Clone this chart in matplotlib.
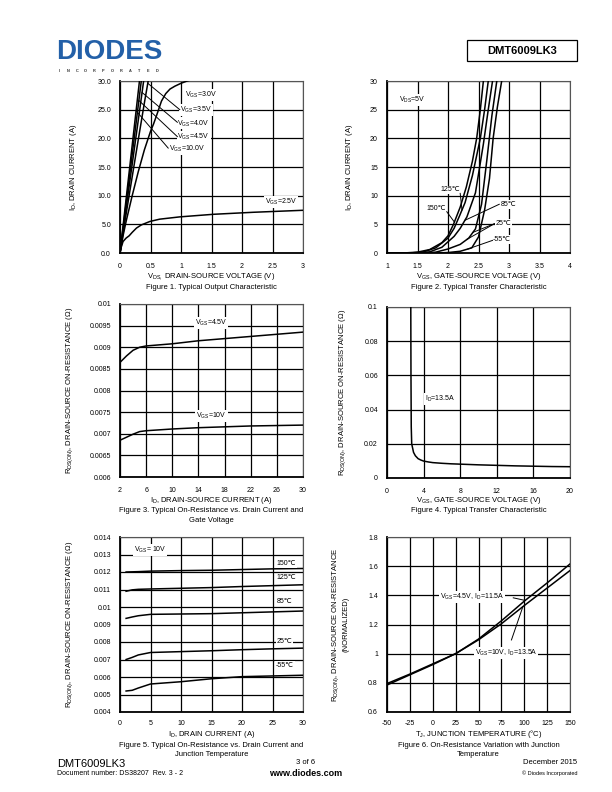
import numpy as np
import matplotlib
matplotlib.use('Agg')
import matplotlib.pyplot as plt
from matplotlib.patches import Rectangle

plt.rcParams['font.family'] = ['Liberation Sans', 'DejaVu Sans']
plt.rcParams['mathtext.fontset'] = 'custom'
plt.rcParams['mathtext.rm'] = 'Liberation Sans'
plt.rcParams['mathtext.it'] = 'Liberation Sans:italic'
plt.rcParams['mathtext.bf'] = 'Liberation Sans:bold'

# ---------------- Figure 1 data ----------------
f1_vds_25 = [0, 0.02, 0.05, 0.1, 0.15, 0.2, 0.27, 0.35, 0.49, 0.65, 0.98, 1.53, 2.18, 3.0]
f1_id_25 = [0, 1.0, 2.0, 2.6, 3.0, 3.6, 4.35, 4.9, 5.5, 5.9, 6.3, 6.75, 7.1, 7.45]
f1_vds_30 = [0, 0.05, 0.1, 0.2, 0.3, 0.4, 0.5, 0.55, 0.6, 0.68, 0.75, 0.82, 0.9, 1.0, 1.1, 1.2]
f1_id_30 = [0, 3, 5.5, 10, 14.2, 18, 21.2, 22.5, 24, 26.5, 27.8, 28.6, 29.1, 29.6, 30, 30.3]
f1_vds_35 = [0, 0.1, 0.2, 0.3, 0.4, 0.47]
f1_id_35 = [0, 6.8, 13.3, 19.8, 26.2, 30.5]
f1_vds_40 = [0, 0.1, 0.2, 0.3, 0.39]
f1_id_40 = [0, 7.8, 15.5, 23.2, 30.2]
f1_vds_45 = [0, 0.1, 0.2, 0.3, 0.35]
f1_id_45 = [0, 8.6, 17.2, 25.8, 30.1]
f1_vds_100 = [0, 0.1, 0.2, 0.3, 0.32]
f1_id_100 = [0, 9.4, 18.8, 28.2, 30.1]
f1_xticks = [0, 0.5, 1, 1.5, 2, 2.5, 3]
f1_xticklabels = ['0', '0.5', '1', '1.5', '2', '2.5', '3']
f1_yticks = [0, 5, 10, 15, 20, 25, 30]
f1_yticklabels = ['0.0', '5.0', '10.0', '15.0', '20.0', '25.0', '30.0']

# ---------------- Figure 2 data ----------------
f2_vgs_150 = [1.0, 1.3, 1.5, 1.7, 1.9, 2.0, 2.09, 2.2, 2.3, 2.4, 2.47, 2.53, 2.58, 2.6]
f2_id_150 = [0, 0.02, 0.15, 0.6, 1.8, 3.0, 5.0, 8.0, 11.5, 16, 20, 25, 30, 32]
f2_vgs_125 = [1.0, 1.4, 1.6, 1.8, 2.0, 2.1, 2.19, 2.28, 2.4, 2.53, 2.6, 2.66, 2.68]
f2_id_125 = [0, 0.02, 0.2, 0.9, 2.6, 4.3, 6.5, 8.8, 13.5, 20, 25, 30, 32]
f2_vgs_85 = [1.0, 1.5, 1.7, 1.9, 2.1, 2.2, 2.31, 2.45, 2.58, 2.66, 2.73, 2.75]
f2_id_85 = [0, 0.02, 0.2, 1.0, 2.9, 4.3, 6.3, 10.5, 19, 25, 30, 32]
f2_vgs_25 = [1.0, 1.6, 1.8, 2.0, 2.2, 2.34, 2.45, 2.55, 2.64, 2.72, 2.8, 2.82]
f2_id_25 = [0, 0.01, 0.15, 0.7, 1.5, 2.6, 4.2, 8.5, 16.5, 24, 30, 32]
f2_vgs_m55 = [1.0, 1.8, 2.0, 2.2, 2.39, 2.5, 2.6, 2.68, 2.74, 2.81, 2.88, 2.9]
f2_id_m55 = [0, 0.01, 0.08, 0.3, 0.9, 2.8, 7.5, 13, 20, 25.5, 30, 32]
f2_xticks = [1, 1.5, 2, 2.5, 3, 3.5, 4]
f2_xticklabels = ['1', '1.5', '2', '2.5', '3', '3.5', '4']
f2_yticks = [0, 5, 10, 15, 20, 25, 30]
f2_yticklabels = ['0', '5', '10', '15', '20', '25', '30']

# ---------------- Figure 3 data ----------------
f3_id = [2, 3, 4, 5, 6, 10, 14, 18, 22, 26, 30]
f3_r_45 = [0.00865, 0.0088, 0.00893, 0.00900, 0.00903, 0.00908, 0.00915, 0.0092, 0.00925, 0.0093, 0.00935]
f3_r_10 = [0.00685, 0.00692, 0.00699, 0.00705, 0.00707, 0.00711, 0.00714, 0.00716, 0.00718, 0.00719, 0.0072]
f3_xticks = [2, 6, 10, 14, 18, 22, 26, 30]
f3_xticklabels = ['2', '6', '10', '14', '18', '22', '26', '30']
f3_yticks = [0.006, 0.0065, 0.007, 0.0075, 0.008, 0.0085, 0.009, 0.0095, 0.01]
f3_yticklabels = ['0.006', '0.0065', '0.007', '0.0075', '0.008', '0.0085', '0.009', '0.0095', '0.01']

# ---------------- Figure 4 data ----------------
f4_vgs = [2.6, 2.62, 2.65, 2.7, 2.8, 2.9, 3.1, 3.4, 3.7, 4.0, 4.5, 5, 6, 7, 8, 10, 12, 14, 16, 18, 20]
f4_r = [0.1, 0.06, 0.03, 0.02, 0.0175, 0.015, 0.013, 0.0113, 0.0105, 0.0099, 0.0094, 0.009, 0.0086,
        0.0083, 0.0081, 0.0077, 0.0074, 0.0071, 0.0069, 0.0067, 0.0066]
f4_xticks = [0, 4, 8, 12, 16, 20]
f4_xticklabels = ['0', '4', '8', '12', '16', '20']
f4_yticks = [0, 0.02, 0.04, 0.06, 0.08, 0.1]
f4_yticklabels = ['0', '0.02', '0.04', '0.06', '0.08', '0.1']

# ---------------- Figure 5 data ----------------
f5_id = [1, 2, 3, 5, 10, 15, 20, 25, 30]
f5_r_150 = [0.01200, 0.01201, 0.01202, 0.01205, 0.01208, 0.0121, 0.01214, 0.01218, 0.0122]
f5_r_125 = [0.0109, 0.01098, 0.01101, 0.01103, 0.01107, 0.01111, 0.01117, 0.01122, 0.01127]
f5_r_85 = [0.00935, 0.00943, 0.0095, 0.00958, 0.0096, 0.00962, 0.00967, 0.00972, 0.00977]
f5_r_25 = [0.0070, 0.00712, 0.00726, 0.0074, 0.00745, 0.0075, 0.00756, 0.00761, 0.00765]
f5_r_m55 = [0.0052, 0.00524, 0.00537, 0.0056, 0.00573, 0.0059, 0.00602, 0.00606, 0.0061]
f5_xticks = [0, 5, 10, 15, 20, 25, 30]
f5_xticklabels = ['0', '5', '10', '15', '20', '25', '30']
f5_yticks = [0.004, 0.005, 0.006, 0.007, 0.008, 0.009, 0.01, 0.011, 0.012, 0.013, 0.014]
f5_yticklabels = ['0.004', '0.005', '0.006', '0.007', '0.008', '0.009', '0.01', '0.011', '0.012', '0.013', '0.014']

# ---------------- Figure 6 data ----------------
f6_tj = [-50, -25, 0, 25, 50, 75, 100, 125, 150]
f6_r_45 = [0.795, 0.86, 0.93, 1.0, 1.1, 1.225, 1.36, 1.485, 1.615]
f6_r_10 = [0.785, 0.855, 0.925, 1.0, 1.095, 1.205, 1.33, 1.45, 1.57]
f6_xticks = [-50, -25, 0, 25, 50, 75, 100, 125, 150]
f6_xticklabels = ['-50', '-25', '0', '25', '50', '75', '100', '125', '150']
f6_yticks = [0.6, 0.8, 1.0, 1.2, 1.4, 1.6, 1.8]
f6_yticklabels = ['0.6', '0.8', '1', '1.2', '1.4', '1.6', '1.8']

W, H = 612, 792
fig = plt.figure(figsize=(W / 100, H / 100), dpi=100)


def ax_at(l, t, r, b):
    return fig.add_axes([l / W, 1 - b / H, (r - l) / W, (b - t) / H])


def T(px, py, s, **kw):
    kw.setdefault('va', 'center')
    kw.setdefault('ha', 'center')
    return fig.text(px / W, 1 - py / H, s, **kw)


def style(ax, xlim, ylim, xt, xtl, yt, ytl, xpad=7, ypad=6.5):
    ax.set_xlim(xlim)
    ax.set_ylim(ylim)
    ax.set_xticks(xt)
    ax.set_xticklabels(xtl)
    ax.set_yticks(yt)
    ax.set_yticklabels(ytl)
    ax.grid(True, color='black', lw=0.9)
    ax.set_axisbelow(True)
    ax.tick_params(length=0, labelsize=5)
    ax.tick_params(axis='x', pad=xpad)
    ax.tick_params(axis='y', pad=ypad)
    ax.spines['left'].set_linewidth(1.3)
    ax.spines['bottom'].set_linewidth(1.3)
    ax.spines['top'].set_linewidth(0.8)
    ax.spines['right'].set_linewidth(0.8)
    ax.spines['top'].set_color('#555555')
    ax.spines['right'].set_color('#555555')


BOX = dict(facecolor='white', edgecolor='none', pad=0.6)
LW = 1.1
FS = 5


def lab(ax, x, y, s, ha='left', **kw):
    ax.text(x, y, s, fontsize=FS, ha=ha, va='center', bbox=BOX, zorder=4, **kw)


def leader(ax, x0, y0, x1, y1):
    ax.plot([x0, x1], [y0, y1], color='black', lw=0.7, zorder=5)


# ---------------- Figure 1 ----------------
ax1 = ax_at(120, 81, 303, 253)
style(ax1, (0, 3), (0, 30), f1_xticks, f1_xticklabels, f1_yticks, f1_yticklabels)
for v, i in [(f1_vds_25, f1_id_25), (f1_vds_30, f1_id_30), (f1_vds_35, f1_id_35),
             (f1_vds_40, f1_id_40), (f1_vds_45, f1_id_45), (f1_vds_100, f1_id_100)]:
    ax1.plot(v, i, color='black', lw=LW, zorder=3, clip_on=True)
lab(ax1, 1.07, 27.6, r'V$_{\mathregular{GS}}$=3.0V')
lab(ax1, 0.98, 25.0, r'V$_{\mathregular{GS}}$=3.5V')
lab(ax1, 0.94, 22.6, r'V$_{\mathregular{GS}}$=4.0V')
lab(ax1, 0.94, 20.2, r'V$_{\mathregular{GS}}$=4.5V')
lab(ax1, 0.80, 18.2, r'V$_{\mathregular{GS}}$=10.0V')
lab(ax1, 2.37, 8.9, r'V$_{\mathregular{GS}}$=2.5V')
for (v, i, iy, ex, ey) in [(f1_vds_35, f1_id_35, 29.6, 0.98, 25.0),
                           (f1_vds_40, f1_id_40, 28.0, 0.94, 22.8),
                           (f1_vds_45, f1_id_45, 26.6, 0.94, 20.3),
                           (f1_vds_100, f1_id_100, 24.8, 0.79, 18.3)]:
    leader(ax1, np.interp(iy, i, v), iy, ex, ey)
ax1.set_ylabel(r'I$_{\mathregular{D}}$, DRAIN CURRENT (A)', fontsize=5.5)
ax1.yaxis.set_label_coords((79 - 120) / 183, 0.5)
T(211.5, 277, r'V$_{\mathregular{DS,}}$ DRAIN-SOURCE VOLTAGE (V)', fontsize=5.5)
T(211.5, 287.5, 'Figure 1. Typical Output Characteristic', fontsize=5.5)

# ---------------- Figure 2 ----------------
ax2 = ax_at(387, 81, 570, 253)
style(ax2, (1, 4), (0, 30), f2_xticks, f2_xticklabels, f2_yticks, f2_yticklabels)
curves2 = {'150': (f2_vgs_150, f2_id_150), '125': (f2_vgs_125, f2_id_125),
           '85': (f2_vgs_85, f2_id_85), '25': (f2_vgs_25, f2_id_25), '-55': (f2_vgs_m55, f2_id_m55)}
for k, (v, i) in curves2.items():
    ax2.plot(v, i, color='black', lw=LW, zorder=3)
lab(ax2, 1.2, 26.7, r'V$_{\mathregular{DS}}$=5V')
lab(ax2, 1.88, 11.0, '125℃')
lab(ax2, 1.65, 7.7, '150℃')
lab(ax2, 2.86, 8.5, '85℃')
lab(ax2, 2.78, 5.2, '25℃')
lab(ax2, 2.74, 2.3, '-55℃')
for key, iy, sx, sy in [('125', 7.5, 2.2, 10.4), ('150', 5.4, 1.98, 7.2), ('85', 5.7, 2.84, 8.5),
                        ('25', 2.4, 2.76, 5.1), ('25', 3.6, 2.76, 5.1), ('-55', 0.7, 2.73, 2.2)]:
    v, i = curves2[key]
    leader(ax2, sx, sy, np.interp(iy, i, v), iy)
ax2.set_ylabel(r'I$_{\mathregular{D}}$, DRAIN CURRENT (A)', fontsize=5.5)
ax2.yaxis.set_label_coords((355 - 387) / 183, 0.5)
T(478.5, 277, r'V$_{\mathregular{GS}}$, GATE-SOURCE VOLTAGE (V)', fontsize=5.5)
T(478.5, 287.5, 'Figure 2. Typical Transfer Characteristic', fontsize=5.5)

# ---------------- Figure 3 ----------------
ax3 = ax_at(120, 304, 303, 477)
style(ax3, (2, 30), (0.006, 0.01), f3_xticks, f3_xticklabels, f3_yticks, f3_yticklabels)
ax3.plot(f3_id, f3_r_45, color='black', lw=LW, zorder=3)
ax3.plot(f3_id, f3_r_10, color='black', lw=LW, zorder=3)
lab(ax3, 15.9, 0.00956, r'V$_{\mathregular{GS}}$=4.5V', ha='center')
lab(ax3, 16.0, 0.00742, r'V$_{\mathregular{GS}}$=10V', ha='center')
ax3.set_ylabel(r'R$_{\mathregular{DS(ON)}}$, DRAIN-SOURCE ON-RESISTANCE ($\Omega$)', fontsize=5.5)
ax3.yaxis.set_label_coords((75 - 120) / 183, 0.5)
T(211.5, 500.5, r'I$_{\mathregular{D}}$, DRAIN-SOURCE CURRENT (A)', fontsize=5.5)
T(211.5, 510.5, 'Figure 3. Typical On-Resistance vs. Drain Current and', fontsize=5.5)
T(211.5, 520, 'Gate Voltage', fontsize=5.5)

# ---------------- Figure 4 ----------------
ax4 = ax_at(387, 307, 570, 478)
style(ax4, (0, 20), (0, 0.1), f4_xticks, f4_xticklabels, f4_yticks, f4_yticklabels)
ax4.plot(f4_vgs, f4_r, color='black', lw=LW, zorder=3)
lab(ax4, 4.15, 0.046, r'I$_{\mathregular{D}}$=13.5A')
ax4.set_ylabel(r'R$_{\mathregular{DS(ON)}}$, DRAIN-SOURCE ON-RESISTANCE ($\Omega$)', fontsize=5.5)
ax4.yaxis.set_label_coords((348 - 387) / 183, 0.5)
T(478.5, 500.5, r'V$_{\mathregular{GS}}$, GATE-SOURCE VOLTAGE (V)', fontsize=5.5)
T(478.5, 510.5, 'Figure 4. Typical Transfer Characteristic', fontsize=5.5)

# ---------------- Figure 5 ----------------
ax5 = ax_at(120, 537, 303, 712)
style(ax5, (0, 30), (0.004, 0.014), f5_xticks, f5_xticklabels, f5_yticks, f5_yticklabels, xpad=5.5)
for r in [f5_r_150, f5_r_125, f5_r_85, f5_r_25, f5_r_m55]:
    ax5.plot(f5_id, r, color='black', lw=LW, zorder=3)
lab(ax5, 4.9, 0.01328, r'V$_{\mathregular{GS}}$= 10V', ha='center')
lab(ax5, 27.3, 0.0125, '150℃', ha='center')
lab(ax5, 27.3, 0.01166, '125℃', ha='center')
lab(ax5, 27.0, 0.01029, '85℃', ha='center')
lab(ax5, 27.0, 0.00804, '25℃', ha='center')
lab(ax5, 27.0, 0.00667, '-55℃', ha='center')
ax5.set_ylabel(r'R$_{\mathregular{DS(ON)}}$, DRAIN-SOURCE ON-RESISTANCE ($\Omega$)', fontsize=5.5)
ax5.yaxis.set_label_coords((75 - 120) / 183, 0.5)
T(211.5, 734, r'I$_{\mathregular{D}}$, DRAIN CURRENT (A)', fontsize=5.5)
T(211.5, 745.5, 'Figure 5. Typical On-Resistance vs. Drain Current and', fontsize=5.5)
T(211.5, 755, 'Junction Temperature', fontsize=5.5)

# ---------------- Figure 6 ----------------
ax6 = ax_at(387, 537, 570, 712)
style(ax6, (-50, 150), (0.6, 1.8), f6_xticks, f6_xticklabels, f6_yticks, f6_yticklabels, xpad=5.5)
ax6.plot(f6_tj, f6_r_45, color='black', lw=LW, zorder=3)
ax6.plot(f6_tj, f6_r_10, color='black', lw=LW, zorder=3)
lab(ax6, 8, 1.389, r'V$_{\mathregular{GS}}$=4.5V, I$_{\mathregular{D}}$=11.5A')
lab(ax6, 46, 1.006, r'V$_{\mathregular{GS}}$=10V, I$_{\mathregular{D}}$=13.5A')
leader(ax6, 88, 1.383, 101, np.interp(101, f6_tj, f6_r_45))
leader(ax6, 86, 1.094, 98.5, np.interp(98.5, f6_tj, f6_r_10))
ax6.set_ylabel('R$_{\\mathregular{DS(ON)}}$, DRAIN-SOURCE ON-RESISTANCE\n(NORMALIZED)', fontsize=5.5,
               linespacing=1.4)
ax6.yaxis.set_label_coords((350 - 387) / 183, 0.5)
T(478.5, 734, r'T$_{\mathregular{J}}$, JUNCTION TEMPERATURE (°C)', fontsize=5.5)
T(478.5, 745.5, 'Figure 6. On-Resistance Variation with Junction', fontsize=5.5)
T(478.5, 755, 'Temperature', fontsize=5.5)

# ---------------- Header ----------------
T(56, 52, 'DIODES', ha='left', fontsize=20, fontweight='bold', color='#2360a8')
for k, ch in enumerate('INCORPORATED'):
    T(59 + k * 8.9, 71, ch, fontsize=2.8, fontweight='bold', color='#333333')
fig.patches.append(Rectangle((467 / W, 1 - 61 / H), 110 / W, 21 / H, transform=fig.transFigure,
                             facecolor='none', edgecolor='black', lw=0.9))
T(522, 51, 'DMT6009LK3', fontsize=8, fontweight='bold')

# ---------------- Footer ----------------
T(57, 764, 'DMT6009LK3', ha='left', fontsize=8)
T(57, 773.5, 'Document number: DS38207  Rev. 3 - 2', ha='left', fontsize=5)
T(306, 763, '3 of 6', fontsize=5.5)
T(306, 773, 'www.diodes.com', fontsize=6.5, fontweight='bold')
T(577, 763, 'December 2015', ha='right', fontsize=5.5)
T(577, 773, '© Diodes Incorporated', ha='right', fontsize=4)

fig.savefig('out.png', dpi=100, facecolor='white')
